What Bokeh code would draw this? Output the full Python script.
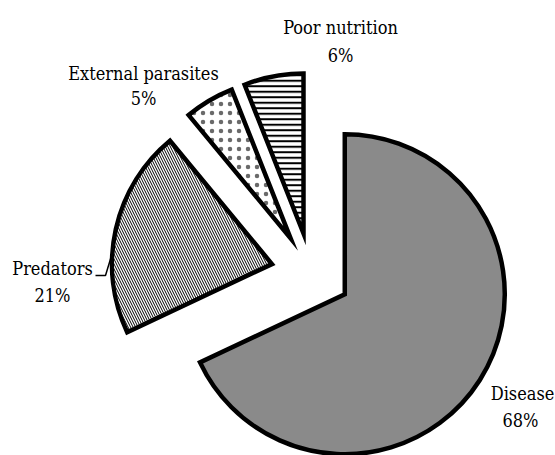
import math
from bokeh.plotting import figure
from bokeh.models import ColumnDataSource, Range1d
from bokeh.core.properties import value
from bokeh.embed import file_html
from bokeh.resources import INLINE

# ---- data ----
categories = ["Disease", "Predators", "External parasites", "Poor nutrition"]
percents = [68, 21, 5, 6]

# ---- layout / style ----
W, H = 555, 455
CX, CY = 310.5, H - 272.3      # pie centre (data units == pixels)
R = 160
EXPLODE = 40
FONT = "DejaVu Serif Condensed, DejaVu Serif"
FS = "18px"

hatches = {
    "Disease": dict(fill_color="#8a8a8a"),
    "Predators": dict(fill_color="white", hatch_pattern="left_diagonal_line", hatch_color="black", hatch_scale=5, hatch_weight=1.0),
    "External parasites": dict(fill_color="white", hatch_pattern="dot", hatch_color="#6a6a6a", hatch_scale=9, hatch_weight=0.1),
    "Poor nutrition": dict(fill_color="white", hatch_pattern="horizontal_line", hatch_color="black", hatch_scale=5.5, hatch_weight=2.0),
}
# label anchor (centre x, baseline y in screen px) for name line and percent line
label_pos = {
    "Disease": (522, 393, 520, 420),
    "Predators": (52, 268, 52, 295),
    "External parasites": (143, 73, 143, 98),
    "Poor nutrition": (340, 27, 340, 55),
}

p = figure(width=W, height=H, output_backend="svg", toolbar_location=None,
           x_range=Range1d(0, W), y_range=Range1d(0, H), min_border=0)
p.axis.visible = False
p.grid.visible = False
p.outline_line_color = None
p.background_fill_color = "white"
p.border_fill_color = "white"

total = sum(percents)
cum = 0.0
geom = {}
for cat, pct in zip(categories, percents):
    f0 = cum / total
    f1 = (cum + pct) / total
    cum += pct
    mid = (f0 + f1) / 2 * 2 * math.pi           # clockwise from top
    x = CX + EXPLODE * math.sin(mid)
    y = CY + EXPLODE * math.cos(mid)
    sa = math.pi / 2 - f0 * 2 * math.pi
    ea = math.pi / 2 - f1 * 2 * math.pi
    geom[cat] = (x, y)
    src = ColumnDataSource(dict(x=[x], y=[y], sa=[sa], ea=[ea]))
    p.wedge(x="x", y="y", radius=R, start_angle="sa", end_angle="ea", direction="clock",
            source=src, line_color="black", line_width=4.5, line_join="miter",
            **hatches[cat])

# labels
for cat, pct in zip(categories, percents):
    x1, b1, x2, b2 = label_pos[cat]
    p.text(x=[x1], y=[H - b1], text=[cat], text_font=value(FONT), text_font_size=FS,
           text_align="center", text_baseline="alphabetic", text_color="black")
    p.text(x=[x2], y=[H - b2], text=[f"{pct}%"], text_font=value(FONT), text_font_size=FS,
           text_align="center", text_baseline="alphabetic", text_color="black")

# leader line for Predators
px, py = geom["Predators"]
ang = math.radians(274)
ax = px + R * math.sin(ang)
ay = py + R * math.cos(ang)
p.line(x=[95, 105, ax], y=[H - 275, H - 275, ay], line_color="black", line_width=1.5)

open("out.html", "w").write(file_html(p, INLINE))
